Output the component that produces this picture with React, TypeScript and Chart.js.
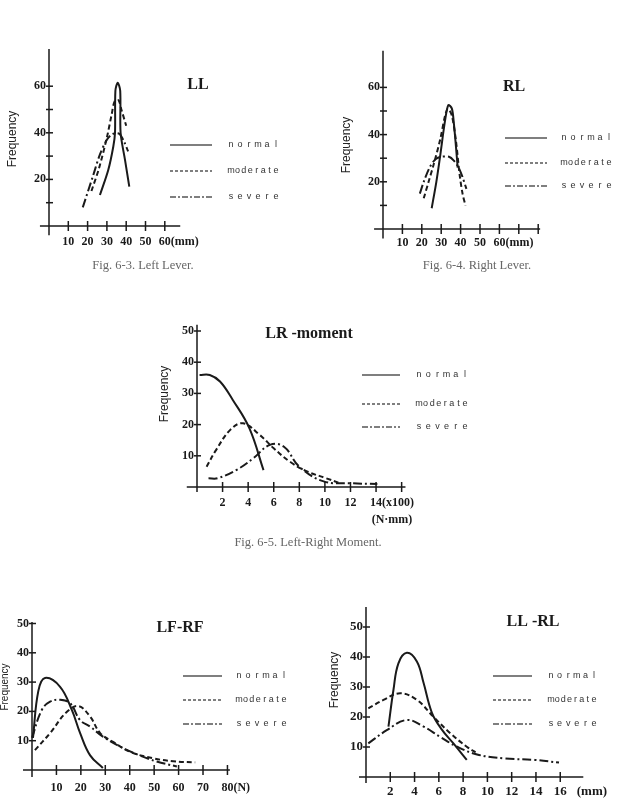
import React, { useEffect, useRef } from "react";
import { Chart, registerables } from "chart.js";

Chart.register(...registerables);

const W = 618;
const H = 807;
const INK = "#1a1a1a";
const SERIF = "'Liberation Serif', 'DejaVu Serif', serif";
const SANS = "'Liberation Sans', 'DejaVu Sans', sans-serif";

const seriesNames = ["normal", "moderate", "severe"];

// ---- Fig. 6-3  LL (left lever, mm) ----
const llNormalX = [26.4, 30.7, 33.3, 34.2, 34.4, 35.6, 36.9, 37.1, 39.4, 41.6];
const llNormalY = [13.3, 24, 34, 40, 58, 61.5, 58, 40, 28.3, 16.9];
const llModerateX = [22, 26, 30, 32.5, 34, 36, 37.5, 40];
const llModerateY = [15, 25, 38, 48, 53.5, 54, 50, 43];
const llSevereX = [17.5, 23, 26.5, 30, 33, 36.5, 39, 41];
const llSevereY = [8, 22, 31, 37, 39.5, 39.5, 36, 32];
const llXTicks = [10, 20, 30, 40, 50, 60];
const llXLabels = ["10", "20", "30", "40", "50", "60"];
const llYTicks = [10, 20, 30, 40, 50, 60];
const llYLabels = ["", "20", "", "40", "", "60"];

// ---- Fig. 6-4  RL (right lever, mm) ----
const rlNormalX = [25.1, 27.5, 29.4, 32, 33.7, 35.5, 36.5, 37.6, 38.5];
const rlNormalY = [8.8, 20, 30.6, 46, 52.5, 51, 45, 35, 26];
const rlModerateX = [21, 23.5, 26, 29.5, 32, 33.5, 35.5, 37.5, 39.5, 41, 42.5];
const rlModerateY = [13, 20, 27, 38, 48, 51, 48, 38, 23, 15, 10];
const rlSevereX = [19, 21, 24, 27, 30, 34, 36.5, 39, 41, 43];
const rlSevereY = [15, 20, 26, 29.5, 30.6, 30.6, 29, 26, 22, 17];
const rlXTicks = [10, 20, 30, 40, 50, 60, 70, 80];
const rlXLabels = ["10", "20", "30", "40", "50", "60", "", ""];
const rlYTicks = [10, 20, 30, 40, 50, 60];
const rlYLabels = ["", "20", "", "40", "", "60"];

// ---- Fig. 6-5  LR-moment (x100 N·mm) ----
const lrNormalX = [0.2, 1.0, 1.8, 2.8, 4.1, 5.2];
const lrNormalY = [35.9, 35.9, 33.8, 27.9, 18.8, 5.4];
const lrModerateX = [0.75, 1.5, 2.6, 3.6, 4.9, 6.0, 7.3, 8.6, 10.1, 11.2];
const lrModerateY = [6.5, 11.9, 18.3, 20.4, 16.7, 12.4, 8.0, 5.0, 2.8, 1.2];
const lrSevereX = [0.9, 1.6, 3.1, 4.4, 5.7, 6.8, 8.0, 9.9, 12.0, 14.1];
const lrSevereY = [2.8, 2.8, 5.5, 9.2, 13.5, 12.9, 6.5, 1.8, 1.2, 1.0];
const lrXTicks = [2, 4, 6, 8, 10, 12, 14, 16];
const lrXLabels = ["2", "4", "6", "8", "10", "12", "14", ""];
const lrYTicks = [10, 20, 30, 40, 50];
const lrYLabels = ["10", "20", "30", "40", "50"];

// ---- LF-RF (N) ----
const lfNormalX = [0.4, 2.6, 5.3, 11.5, 16.3, 19.7, 23.8, 29];
const lfNormalY = [11, 27, 31.4, 28.4, 20.5, 12.6, 5, 0.7];
const lfModerateX = [1.2, 7.4, 14.2, 19, 23.8, 27.9, 33.2, 40.2, 49.6, 57.8, 66.8];
const lfModerateY = [6.8, 12.6, 19.8, 21.8, 18.2, 12.6, 9.6, 6.2, 4, 3, 2.6];
const lfSevereX = [0, 4, 7.4, 11.5, 15.6, 19.7, 23.8, 29, 36, 44, 51, 59.3];
const lfSevereY = [11, 20.5, 23.3, 24, 22.8, 17, 14.8, 11.4, 8, 5, 2.9, 1.2];
const lfXTicks = [10, 20, 30, 40, 50, 60, 70, 80];
const lfXLabels = ["10", "20", "30", "40", "50", "60", "70", "80"];
const lfYTicks = [10, 20, 30, 40, 50];
const lfYLabels = ["10", "20", "30", "40", "50"];

// ---- LL-RL (mm) ----
const dlNormalX = [1.85, 2.26, 2.67, 3.36, 4.19, 4.74, 5.43, 6.25, 7.2, 8.3];
const dlNormalY = [16.8, 29, 37.9, 41.4, 38.5, 31.4, 21.4, 15.8, 11.2, 5.7];
const dlModerateX = [0.19, 1.44, 2.81, 4.19, 5.57, 6.94, 8.3, 9.15];
const dlModerateY = [22.9, 25.7, 27.9, 25.7, 20, 14.6, 10.1, 7.9];
const dlSevereX = [0.19, 1.71, 3.36, 4.74, 6.1, 7.5, 9.15, 11.4, 13.9, 15.9];
const dlSevereY = [11.2, 15.6, 19, 16.8, 13.4, 10.1, 7.5, 6.2, 5.7, 4.8];
const dlXTicks = [2, 4, 6, 8, 10, 12, 14, 16];
const dlXLabels = ["2", "4", "6", "8", "10", "12", "14", "16"];
const dlYTicks = [10, 20, 30, 40, 50];
const dlYLabels = ["10", "20", "30", "40", "50"];

type Series = { xs: number[]; ys: number[] };

type PanelDef = {
  title: string;
  series: Series[];
  xTicks: number[];
  xLabels: string[];
  yTicks: number[];
  yLabels: string[];
  xUnit: string;
  // layout (page pixels)
  ox: number;
  oy: number;
  kx: number;
  ky: number;
  xMin: number;
  xMax: number;
  yMin: number;
  yMax: number;
  tension: number;
  tickFont: number;
  xLabelDy: number;
  unitGap: number;
  subUnit?: { text: string; x: number; y: number };
  titlePos: [number, number];
  freqPos: [number, number, number];
  legend: { x1: number; x2: number; tx1: number; tx2: number; ys: number[] };
};

const panels: PanelDef[] = [
  {
    title: "LL",
    series: [
      { xs: llNormalX, ys: llNormalY },
      { xs: llModerateX, ys: llModerateY },
      { xs: llSevereX, ys: llSevereY },
    ],
    xTicks: llXTicks, xLabels: llXLabels, yTicks: llYTicks, yLabels: llYLabels,
    xUnit: "(mm)",
    ox: 49, oy: 226, kx: 1.93, ky: 2.33,
    xMin: -4.7, xMax: 68, yMin: -4, yMax: 76,
    tension: 0.3, tickFont: 12, xLabelDy: 16, unitGap: 0,
    titlePos: [198, 85],
    freqPos: [13, 139, 12],
    legend: { x1: 170, x2: 212, tx1: 228, tx2: 279, ys: [145, 171, 197] },
  },
  {
    title: "RL",
    series: [
      { xs: rlNormalX, ys: rlNormalY },
      { xs: rlModerateX, ys: rlModerateY },
      { xs: rlSevereX, ys: rlSevereY },
    ],
    xTicks: rlXTicks, xLabels: rlXLabels, yTicks: rlYTicks, yLabels: rlYLabels,
    xUnit: "(mm)",
    ox: 383, oy: 229, kx: 1.94, ky: 2.36,
    xMin: -4.6, xMax: 81, yMin: -4, yMax: 75.5,
    tension: 0.3, tickFont: 12, xLabelDy: 14, unitGap: 0,
    titlePos: [514, 87],
    freqPos: [347, 145, 12],
    legend: { x1: 505, x2: 547, tx1: 561, tx2: 612, ys: [138, 163, 186] },
  },
  {
    title: "LR -moment",
    series: [
      { xs: lrNormalX, ys: lrNormalY },
      { xs: lrModerateX, ys: lrModerateY },
      { xs: lrSevereX, ys: lrSevereY },
    ],
    xTicks: lrXTicks, xLabels: lrXLabels, yTicks: lrYTicks, yLabels: lrYLabels,
    xUnit: "(x100)",
    ox: 197, oy: 487, kx: 12.79, ky: 3.12,
    xMin: -0.8, xMax: 16.3, yMin: -1.6, yMax: 52,
    tension: 0.4, tickFont: 12, xLabelDy: 16, unitGap: 0,
    subUnit: { text: "(N·mm)", x: 392, y: 520 },
    titlePos: [309, 334],
    freqPos: [165, 394, 12],
    legend: { x1: 362, x2: 400, tx1: 416, tx2: 468, ys: [375, 404, 427] },
  },
  {
    title: "LF-RF",
    series: [
      { xs: lfNormalX, ys: lfNormalY },
      { xs: lfModerateX, ys: lfModerateY },
      { xs: lfSevereX, ys: lfSevereY },
    ],
    xTicks: lfXTicks, xLabels: lfXLabels, yTicks: lfYTicks, yLabels: lfYLabels,
    xUnit: "(N)",
    ox: 32, oy: 770, kx: 2.443, ky: 2.93,
    xMin: -3.7, xMax: 81, yMin: -2.4, yMax: 50.5,
    tension: 0.4, tickFont: 12, xLabelDy: 18, unitGap: 0,
    titlePos: [180, 628],
    freqPos: [5, 687, 10],
    legend: { x1: 183, x2: 222, tx1: 236, tx2: 287, ys: [676, 700, 724] },
  },
  {
    title: "LL -RL",
    series: [
      { xs: dlNormalX, ys: dlNormalY },
      { xs: dlModerateX, ys: dlModerateY },
      { xs: dlSevereX, ys: dlSevereY },
    ],
    xTicks: dlXTicks, xLabels: dlXLabels, yTicks: dlYTicks, yLabels: dlYLabels,
    xUnit: "(mm)",
    ox: 366, oy: 777, kx: 12.14, ky: 3.0,
    xMin: -0.58, xMax: 17.9, yMin: -2, yMax: 56.7,
    tension: 0.4, tickFont: 13, xLabelDy: 15, unitGap: 10,
    titlePos: [533, 622],
    freqPos: [335, 680, 12],
    legend: { x1: 493, x2: 532, tx1: 548, tx2: 597, ys: [676, 700, 724] },
  },
];

const captions = [
  { text: "Fig. 6-3. Left Lever.", x: 143, y: 265 },
  { text: "Fig. 6-4. Right Lever.", x: 477, y: 265 },
  { text: "Fig. 6-5. Left-Right Moment.", x: 308, y: 542 },
];

const curveDash: number[][] = [[], [5, 3], [9, 3, 2, 3]];
const legendDash: number[][] = [[], [3, 2], [6, 2, 2, 2]];

function makeDecor(p: PanelDef) {
  return {
    id: "decor",
    beforeDatasetsDraw(chart: any) {
      const { ctx, chartArea: a } = chart;
      const xs = chart.scales.x;
      const ys = chart.scales.y;
      const x0 = xs.getPixelForValue(0);
      const y0 = ys.getPixelForValue(0);
      ctx.save();
      ctx.strokeStyle = INK;
      ctx.fillStyle = INK;
      ctx.lineWidth = 1.5;
      ctx.setLineDash([]);

      // axes
      ctx.beginPath();
      ctx.moveTo(a.left, y0);
      ctx.lineTo(a.right, y0);
      ctx.moveTo(x0, a.top);
      ctx.lineTo(x0, a.bottom);
      ctx.stroke();

      // x ticks and labels
      ctx.font = `bold ${p.tickFont}px ${SERIF}`;
      ctx.textBaseline = "middle";
      p.xTicks.forEach((v, i) => {
        const px = xs.getPixelForValue(v);
        ctx.beginPath();
        ctx.moveTo(px, y0 - 5);
        ctx.lineTo(px, y0 + 5);
        ctx.stroke();
        const lab = p.xLabels[i];
        if (lab) {
          ctx.textAlign = "center";
          ctx.fillText(lab, px, y0 + p.xLabelDy);
          const isLast = p.xLabels.slice(i + 1).every((s) => !s);
          if (isLast) {
            const w = ctx.measureText(lab).width;
            ctx.textAlign = "left";
            ctx.fillText(p.xUnit, px + w / 2 + p.unitGap, y0 + p.xLabelDy);
          }
        }
      });
      if (p.subUnit) {
        ctx.textAlign = "center";
        ctx.fillText(p.subUnit.text, p.subUnit.x, p.subUnit.y);
      }

      // y ticks and labels
      p.yTicks.forEach((v, i) => {
        const py = ys.getPixelForValue(v);
        ctx.beginPath();
        ctx.moveTo(x0 - 3, py);
        ctx.lineTo(x0 + 4, py);
        ctx.stroke();
        const lab = p.yLabels[i];
        if (lab) {
          ctx.textAlign = "right";
          ctx.fillText(lab, x0 - 3, py);
        }
      });

      // title
      ctx.font = `bold 16px ${SERIF}`;
      ctx.textAlign = "center";
      ctx.fillText(p.title, p.titlePos[0], p.titlePos[1]);

      // vertical axis name
      ctx.save();
      ctx.translate(p.freqPos[0], p.freqPos[1]);
      ctx.rotate(-Math.PI / 2);
      ctx.font = `${p.freqPos[2]}px ${SANS}`;
      ctx.fillStyle = "#222";
      ctx.fillText("Frequency", 0, 0);
      ctx.restore();

      // legend
      const L = p.legend;
      seriesNames.forEach((name, i) => {
        const ly = L.ys[i];
        ctx.strokeStyle = "#555";
        ctx.lineWidth = 1.3;
        ctx.setLineDash(legendDash[i]);
        ctx.beginPath();
        ctx.moveTo(L.x1, ly);
        ctx.lineTo(L.x2, ly);
        ctx.stroke();
        ctx.setLineDash([]);
        ctx.font = `9px ${SANS}`;
        ctx.fillStyle = "#333";
        ctx.textAlign = "center";
        const letters = name.split("");
        const step = (L.tx2 - L.tx1 - 6) / (letters.length - 1);
        letters.forEach((ch, k) => {
          ctx.fillText(ch, L.tx1 + 3 + k * step, ly);
        });
      });
      ctx.restore();
    },
  };
}

function ChartPanel({ p }: { p: PanelDef }) {
  const ref = useRef<HTMLCanvasElement>(null);
  useEffect(() => {
    const left = p.ox + p.xMin * p.kx;
    const right = W - (p.ox + p.xMax * p.kx);
    const top = p.oy - p.yMax * p.ky;
    const bottom = H - (p.oy - p.yMin * p.ky);
    const chart = new Chart(ref.current as HTMLCanvasElement, {
      type: "line",
      data: {
        datasets: p.series.map((s, i) => ({
          label: seriesNames[i],
          data: s.xs.map((x, k) => ({ x, y: s.ys[k] })),
          borderColor: INK,
          borderWidth: 2,
          borderDash: curveDash[i],
          pointRadius: 0,
          tension: p.tension,
          fill: false,
          clip: false as any,
        })),
      },
      options: {
        responsive: false,
        animation: false,
        devicePixelRatio: 1,
        events: [],
        layout: { padding: { left, right, top, bottom } },
        scales: {
          x: { type: "linear", min: p.xMin, max: p.xMax, display: false },
          y: { type: "linear", min: p.yMin, max: p.yMax, display: false },
        },
        plugins: {
          legend: { display: false },
          tooltip: { enabled: false },
        },
      },
      plugins: [makeDecor(p)],
    });
    return () => chart.destroy();
  }, [p]);
  return (
    <canvas
      ref={ref}
      width={W}
      height={H}
      style={{ position: "absolute", left: 0, top: 0, width: W, height: H }}
    />
  );
}

export default function App() {
  return (
    <div
      style={{
        position: "absolute",
        left: 0,
        top: 0,
        width: W,
        height: H,
        background: "#fff",
        overflow: "hidden",
      }}
    >
      {panels.map((p, i) => (
        <ChartPanel key={i} p={p} />
      ))}
      {captions.map((c, i) => (
        <div
          key={i}
          style={{
            position: "absolute",
            left: c.x,
            top: c.y,
            transform: "translate(-50%, -50%)",
            whiteSpace: "nowrap",
            font: `12.5px ${SERIF}`,
            color: "#666",
          }}
        >
          {c.text}
        </div>
      ))}
    </div>
  );
}
